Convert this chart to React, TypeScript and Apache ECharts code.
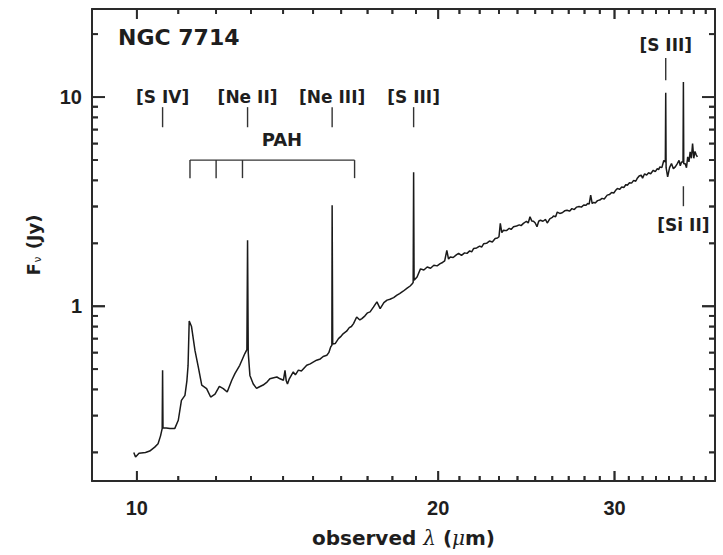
import React, { useEffect, useRef } from "react";
import * as echarts from "echarts";

// ---- Data : [observed wavelength (um), flux (Jy)] ----
const SPECTRUM: number[][] = [
  [9.93, 0.2], [9.97, 0.19], [10.05, 0.198], [10.2, 0.2], [10.3, 0.203], [10.42, 0.212], [10.5, 0.22],
  [10.56, 0.24], [10.59, 0.255], [10.6, 0.26], [10.61, 0.494], [10.62, 0.262], [10.7, 0.262], [10.79, 0.26],
  [10.91, 0.26], [11.0, 0.285], [11.08, 0.355], [11.17, 0.375], [11.22, 0.44], [11.25, 0.52], [11.28, 0.85],
  [11.34, 0.8], [11.43, 0.615], [11.52, 0.51], [11.61, 0.42], [11.74, 0.404], [11.85, 0.368], [11.97, 0.38],
  [12.09, 0.414], [12.2, 0.404], [12.31, 0.389], [12.44, 0.443], [12.53, 0.476], [12.67, 0.522], [12.82, 0.594],
  [12.88, 0.62], [12.9, 2.07], [12.92, 0.6], [12.97, 0.467], [13.07, 0.425], [13.17, 0.405], [13.23, 0.41],
  [13.37, 0.42], [13.49, 0.434], [13.58, 0.45], [13.7, 0.455], [13.8, 0.459], [13.9, 0.45], [14.01, 0.443],
  [14.06, 0.494], [14.1, 0.44], [14.14, 0.425], [14.2, 0.45], [14.33, 0.485], [14.4, 0.47], [14.5, 0.495],
  [14.6, 0.49], [14.78, 0.522], [14.9, 0.53], [15.0, 0.54], [15.12, 0.552], [15.25, 0.56], [15.35, 0.575],
  [15.48, 0.583], [15.55, 0.6], [15.62, 0.64], [15.66, 0.65], [15.67, 3.04], [15.69, 0.66], [15.78, 0.663],
  [15.9, 0.7], [16.0, 0.72], [16.08, 0.74], [16.2, 0.76], [16.3, 0.79], [16.38, 0.8], [16.46, 0.826],
  [16.58, 0.889], [16.7, 0.86], [16.78, 0.873], [16.9, 0.9], [17.0, 0.93], [17.1, 0.94], [17.23, 0.99],
  [17.37, 1.05], [17.5, 0.975], [17.65, 1.04], [17.78, 1.07], [17.9, 1.08], [18.05, 1.1], [18.19, 1.13],
  [18.3, 1.15], [18.45, 1.18], [18.62, 1.22], [18.75, 1.25], [18.84, 1.28], [18.88, 1.3], [18.9, 4.38],
  [18.92, 1.33], [19.05, 1.38], [19.2, 1.51], [19.35, 1.49], [19.5, 1.54], [19.65, 1.52], [19.8, 1.57],
  [19.95, 1.56], [20.09, 1.6], [20.2, 1.62], [20.3, 1.65], [20.4, 1.85], [20.48, 1.68], [20.56, 1.72],
  [20.7, 1.71], [20.85, 1.76], [20.96, 1.79], [21.1, 1.75], [21.25, 1.8], [21.37, 1.79], [21.5, 1.84],
  [21.6, 1.82], [21.7, 1.89], [21.85, 1.9], [22.0, 1.94], [22.1, 1.92], [22.2, 1.99], [22.35, 2.0],
  [22.5, 2.05], [22.65, 2.03], [22.8, 2.11], [22.92, 2.12], [23.0, 2.15], [23.07, 2.49], [23.15, 2.25],
  [23.24, 2.31], [23.4, 2.3], [23.55, 2.36], [23.65, 2.33], [23.78, 2.4], [23.95, 2.42], [24.1, 2.45],
  [24.2, 2.43], [24.33, 2.49], [24.5, 2.55], [24.6, 2.5], [24.7, 2.68], [24.8, 2.56], [24.9, 2.55],
  [25.0, 2.5], [25.1, 2.4], [25.2, 2.55], [25.3, 2.58], [25.45, 2.55], [25.6, 2.6], [25.7, 2.5],
  [25.85, 2.62], [26.0, 2.66], [26.07, 2.7], [26.2, 2.68], [26.3, 2.82], [26.45, 2.78], [26.6, 2.8],
  [26.75, 2.86], [26.9, 2.88], [27.05, 2.85], [27.2, 2.93], [27.35, 2.9], [27.5, 2.98], [27.65, 3.0],
  [27.8, 2.98], [27.95, 3.05], [28.1, 3.04], [28.2, 3.1], [28.3, 3.08], [28.4, 3.4], [28.5, 3.1],
  [28.6, 3.14], [28.7, 3.12], [28.85, 3.2], [29.0, 3.22], [29.15, 3.28], [29.3, 3.26], [29.5, 3.4],
  [29.65, 3.42], [29.8, 3.5], [29.95, 3.48], [30.1, 3.6], [30.2, 3.66], [30.35, 3.62], [30.5, 3.72],
  [30.65, 3.7], [30.8, 3.82], [30.9, 3.79], [31.05, 3.9], [31.2, 3.88], [31.35, 4.0], [31.5, 3.96],
  [31.6, 4.08], [31.75, 4.2], [31.9, 4.24], [32.0, 4.1], [32.15, 4.3], [32.3, 4.24], [32.45, 4.35],
  [32.6, 4.3], [32.8, 4.47], [32.95, 4.4], [33.1, 4.55], [33.2, 4.5], [33.3, 4.64], [33.45, 4.6],
  [33.6, 4.98], [33.72, 4.9], [33.75, 10.5], [33.78, 4.6], [33.9, 4.16], [34.05, 4.6], [34.2, 4.82],
  [34.35, 4.55], [34.5, 4.64], [34.65, 4.8], [34.8, 4.98], [34.9, 4.7], [35.0, 4.9], [35.12, 4.9],
  [35.15, 11.8], [35.18, 4.8], [35.3, 4.8], [35.4, 4.6], [35.5, 5.18], [35.6, 4.9], [35.7, 5.47],
  [35.8, 5.1], [35.9, 6.0], [36.0, 5.1], [36.1, 5.5], [36.2, 5.3], [36.3, 5.18],
];

const X_MIN = 9.02;
const X_MAX = 37.8;
const Y_MIN = 0.146;
const Y_MAX = 26.4;

const X_MAJOR = [10, 20, 30];
const X_MINOR = [11, 12, 13, 14, 15, 16, 17, 18, 19, 21, 22, 23, 24, 25, 26, 27, 28, 29, 31, 32, 33, 34, 35, 36, 37];
const Y_MAJOR = [1, 10];
const Y_MINOR = [0.2, 0.3, 0.4, 0.5, 0.6, 0.7, 0.8, 0.9, 2, 3, 4, 5, 6, 7, 8, 9, 20];

// emission line annotations
const LINE_NAMES = ["[S IV]", "[Ne II]", "[Ne III]", "[S III]", "[S III]", "[Si II]"];
const LINE_WAVES = [10.61, 12.9, 15.67, 18.9, 33.75, 35.15];
const LINE_TICK_TOP = [8.96, 8.96, 8.96, 8.96, 15.4, 3.75];
const LINE_TICK_BOTTOM = [7.18, 7.18, 7.18, 7.18, 12.06, 3.01];
const LINE_LABEL_Y = [10.0, 10.0, 10.0, 10.0, 17.7, 2.45];

// PAH bracket
const PAH_WAVES = [11.3, 12.0, 12.75, 16.5];
const PAH_BAR_Y = 5.0;
const PAH_TICK_Y = 4.1;
const PAH_LABEL = ["PAH", 13.96, 6.3] as const;

const INK = "#1e1e1e";
const AXIS = "#2a2a2a";
const LABEL_FONT = "DejaVu Sans";
const TICK_FONT = "Liberation Sans";

// layout
const GRID = { left: 92, top: 9, right: 8, bottom: 74 };
const W = 723;
const H = 555;
const MAJOR_LEN_X = 10;
const MINOR_LEN_X = 5;
const MAJOR_LEN_Y = 13;
const MINOR_LEN_Y = 6;

export default function App() {
  const ref = useRef<HTMLDivElement>(null);

  useEffect(() => {
    if (!ref.current) return;
    const chart = echarts.init(ref.current, null, { renderer: "svg" });

    const lineAnn = LINE_WAVES.map((w, i) => [w, LINE_TICK_TOP[i], LINE_TICK_BOTTOM[i], LINE_LABEL_Y[i], i]);
    const pahTicks = PAH_WAVES.map((w) => [w, PAH_BAR_Y, PAH_TICK_Y]);
    const pahBar = [
      [PAH_WAVES[0], PAH_BAR_Y],
      [PAH_WAVES[PAH_WAVES.length - 1], PAH_BAR_Y],
    ];

    // tick marks as short segments of a line series (pixel length converted to log-axis factors)
    const plotW = W - GRID.left - GRID.right;
    const plotH = H - GRID.top - GRID.bottom;
    const fy = (len: number) => Math.pow(10, (len * Math.log10(Y_MAX / Y_MIN)) / plotH);
    const fx = (len: number) => Math.pow(10, (len * Math.log10(X_MAX / X_MIN)) / plotW);
    const tickSegs: any[] = [];
    const segX = (v: number, len: number) => {
      tickSegs.push([v, Y_MIN], [v, Y_MIN * fy(len)], null);
      tickSegs.push([v, Y_MAX], [v, Y_MAX / fy(len)], null);
    };
    const segY = (v: number, len: number) => {
      tickSegs.push([X_MIN, v], [X_MIN * fx(len), v], null);
      tickSegs.push([X_MAX, v], [X_MAX / fx(len), v], null);
    };
    X_MAJOR.forEach((v) => segX(v, MAJOR_LEN_X));
    X_MINOR.forEach((v) => segX(v, MINOR_LEN_X));
    Y_MAJOR.forEach((v) => segY(v, MAJOR_LEN_Y));
    Y_MINOR.forEach((v) => segY(v, MINOR_LEN_Y));

    const frameAxisX = (position: string) => ({
      type: "log",
      logBase: 10,
      min: X_MIN,
      max: X_MAX,
      position,
      axisLine: { show: true, onZero: false, lineStyle: { color: AXIS, width: 2 } },
      axisTick: { show: false },
      axisLabel: { show: false },
      splitLine: { show: false },
    });
    const frameAxisY = (position: string) => ({
      type: "log",
      logBase: 10,
      min: Y_MIN,
      max: Y_MAX,
      position,
      axisLine: { show: true, onZero: false, lineStyle: { color: AXIS, width: 2 } },
      axisTick: { show: false },
      axisLabel: { show: false },
      splitLine: { show: false },
    });

    chart.setOption({
      animation: false,
      title: {
        text: "NGC 7714",
        left: 113,
        top: 21,
        textStyle: { fontFamily: LABEL_FONT, fontWeight: "bold", fontSize: 22, color: INK },
      },
      grid: { ...GRID },
      xAxis: [
        {
          type: "log",
          logBase: 10,
          min: X_MIN,
          max: X_MAX,
          position: "bottom",
          axisLine: { show: true, onZero: false, lineStyle: { color: AXIS, width: 2 } },
          axisTick: { show: false },
          axisLabel: {
            show: true,
            customValues: X_MAJOR,
            margin: 17,
            fontFamily: TICK_FONT,
            fontWeight: "bold",
            fontSize: 20,
            color: INK,
          },
          splitLine: { show: false },
          name: "observed {l|λ} ({l|μ}m)",
          nameLocation: "middle",
          nameGap: 47,
          nameTextStyle: {
            fontFamily: LABEL_FONT,
            fontWeight: "bold",
            fontSize: 20,
            color: INK,
            rich: {
              l: { fontFamily: "DejaVu Serif", fontStyle: "italic", fontWeight: "normal", fontSize: 20, color: INK },
            },
          },
        },
        frameAxisX("top"),
      ],
      yAxis: [
        {
          type: "log",
          logBase: 10,
          min: Y_MIN,
          max: Y_MAX,
          position: "left",
          axisLine: { show: true, onZero: false, lineStyle: { color: AXIS, width: 2 } },
          axisTick: { show: false },
          axisLabel: {
            show: true,
            customValues: Y_MAJOR,
            margin: 10,
            fontFamily: TICK_FONT,
            fontWeight: "bold",
            fontSize: 20,
            color: INK,
          },
          splitLine: { show: false },
          name: "{f|F}{s|ν}{f| (Jy)}",
          nameLocation: "middle",
          nameGap: 50,
          nameTextStyle: {
            color: INK,
            rich: {
              f: { fontFamily: LABEL_FONT, fontWeight: "bold", fontSize: 18, color: INK },
              s: { fontFamily: LABEL_FONT, fontWeight: "normal", fontSize: 10, color: INK, verticalAlign: "bottom", padding: [8, 1, 0, 1] },
            },
          },
        },
        frameAxisY("right"),
      ],
      series: [
        {
          name: "ticks",
          type: "line",
          data: tickSegs,
          showSymbol: false,
          symbol: "none",
          connectNulls: false,
          clip: false,
          lineStyle: { color: AXIS, width: 1.8 },
        },
        {
          name: "spectrum",
          type: "line",
          data: SPECTRUM,
          showSymbol: false,
          symbol: "none",
          lineStyle: { color: "#1a1a1a", width: 1.5 },
        },
        {
          name: "lines",
          type: "custom",
          data: lineAnn,
          encode: { x: 0, y: 1 },
          renderItem: (params: any, api: any) => {
            const x = api.value(0);
            const p1 = api.coord([x, api.value(1)]);
            const p2 = api.coord([x, api.value(2)]);
            const pl = api.coord([x, api.value(3)]);
            return {
              type: "group",
              children: [
                {
                  type: "line",
                  shape: { x1: p1[0], y1: p1[1], x2: p2[0], y2: p2[1] },
                  style: { stroke: "#333", lineWidth: 1.4 },
                },
                {
                  type: "text",
                  x: pl[0],
                  y: pl[1],
                  style: {
                    text: LINE_NAMES[api.value(4)],
                    align: "center",
                    verticalAlign: "middle",
                    fontFamily: LABEL_FONT,
                    fontWeight: "bold",
                    fontSize: 17,
                    fill: INK,
                  },
                },
              ],
            };
          },
        },
        {
          name: "pahBar",
          type: "line",
          data: pahBar,
          showSymbol: false,
          symbol: "none",
          lineStyle: { color: "#333", width: 1.4 },
        },
        {
          name: "pahTicks",
          type: "custom",
          data: pahTicks,
          encode: { x: 0, y: 1 },
          renderItem: (params: any, api: any) => {
            const x = api.value(0);
            const p1 = api.coord([x, api.value(1)]);
            const p2 = api.coord([x, api.value(2)]);
            return {
              type: "line",
              shape: { x1: p1[0], y1: p1[1], x2: p2[0], y2: p2[1] },
              style: { stroke: "#333", lineWidth: 1.4 },
            };
          },
        },
        {
          name: "pahLabel",
          type: "custom",
          data: [[PAH_LABEL[1], PAH_LABEL[2]]],
          encode: { x: 0, y: 1 },
          renderItem: (params: any, api: any) => {
            const p = api.coord([api.value(0), api.value(1)]);
            return {
              type: "text",
              x: p[0],
              y: p[1],
              style: {
                text: PAH_LABEL[0],
                align: "center",
                verticalAlign: "middle",
                fontFamily: LABEL_FONT,
                fontWeight: "bold",
                fontSize: 18,
                fill: INK,
              },
            };
          },
        },
      ],
    });

    // second, independent drawing of the same ticks via the graphic layer
    const toPx = (pt: number[]) => chart.convertToPixel({ xAxisIndex: 0, yAxisIndex: 0 }, pt) as number[];
    const els: any[] = [];
    const gx = (v: number, len: number) => {
      const b = toPx([v, Y_MIN]);
      const t = toPx([v, Y_MAX]);
      els.push({ type: "line", shape: { x1: b[0], y1: b[1], x2: b[0], y2: b[1] - len }, style: { stroke: AXIS, lineWidth: 1.8 } });
      els.push({ type: "line", shape: { x1: t[0], y1: t[1], x2: t[0], y2: t[1] + len }, style: { stroke: AXIS, lineWidth: 1.8 } });
    };
    const gy = (v: number, len: number) => {
      const l = toPx([X_MIN, v]);
      const r = toPx([X_MAX, v]);
      els.push({ type: "line", shape: { x1: l[0], y1: l[1], x2: l[0] + len, y2: l[1] }, style: { stroke: AXIS, lineWidth: 1.8 } });
      els.push({ type: "line", shape: { x1: r[0], y1: r[1], x2: r[0] - len, y2: r[1] }, style: { stroke: AXIS, lineWidth: 1.8 } });
    };
    X_MAJOR.forEach((v) => gx(v, MAJOR_LEN_X));
    X_MINOR.forEach((v) => gx(v, MINOR_LEN_X));
    Y_MAJOR.forEach((v) => gy(v, MAJOR_LEN_Y));
    Y_MINOR.forEach((v) => gy(v, MINOR_LEN_Y));
    chart.setOption({ graphic: { elements: els } });

    return () => chart.dispose();
  }, []);

  return (
    <div
      ref={ref}
      style={{ position: "absolute", left: 0, top: 0, width: W, height: H, background: "#fff" }}
    />
  );
}
